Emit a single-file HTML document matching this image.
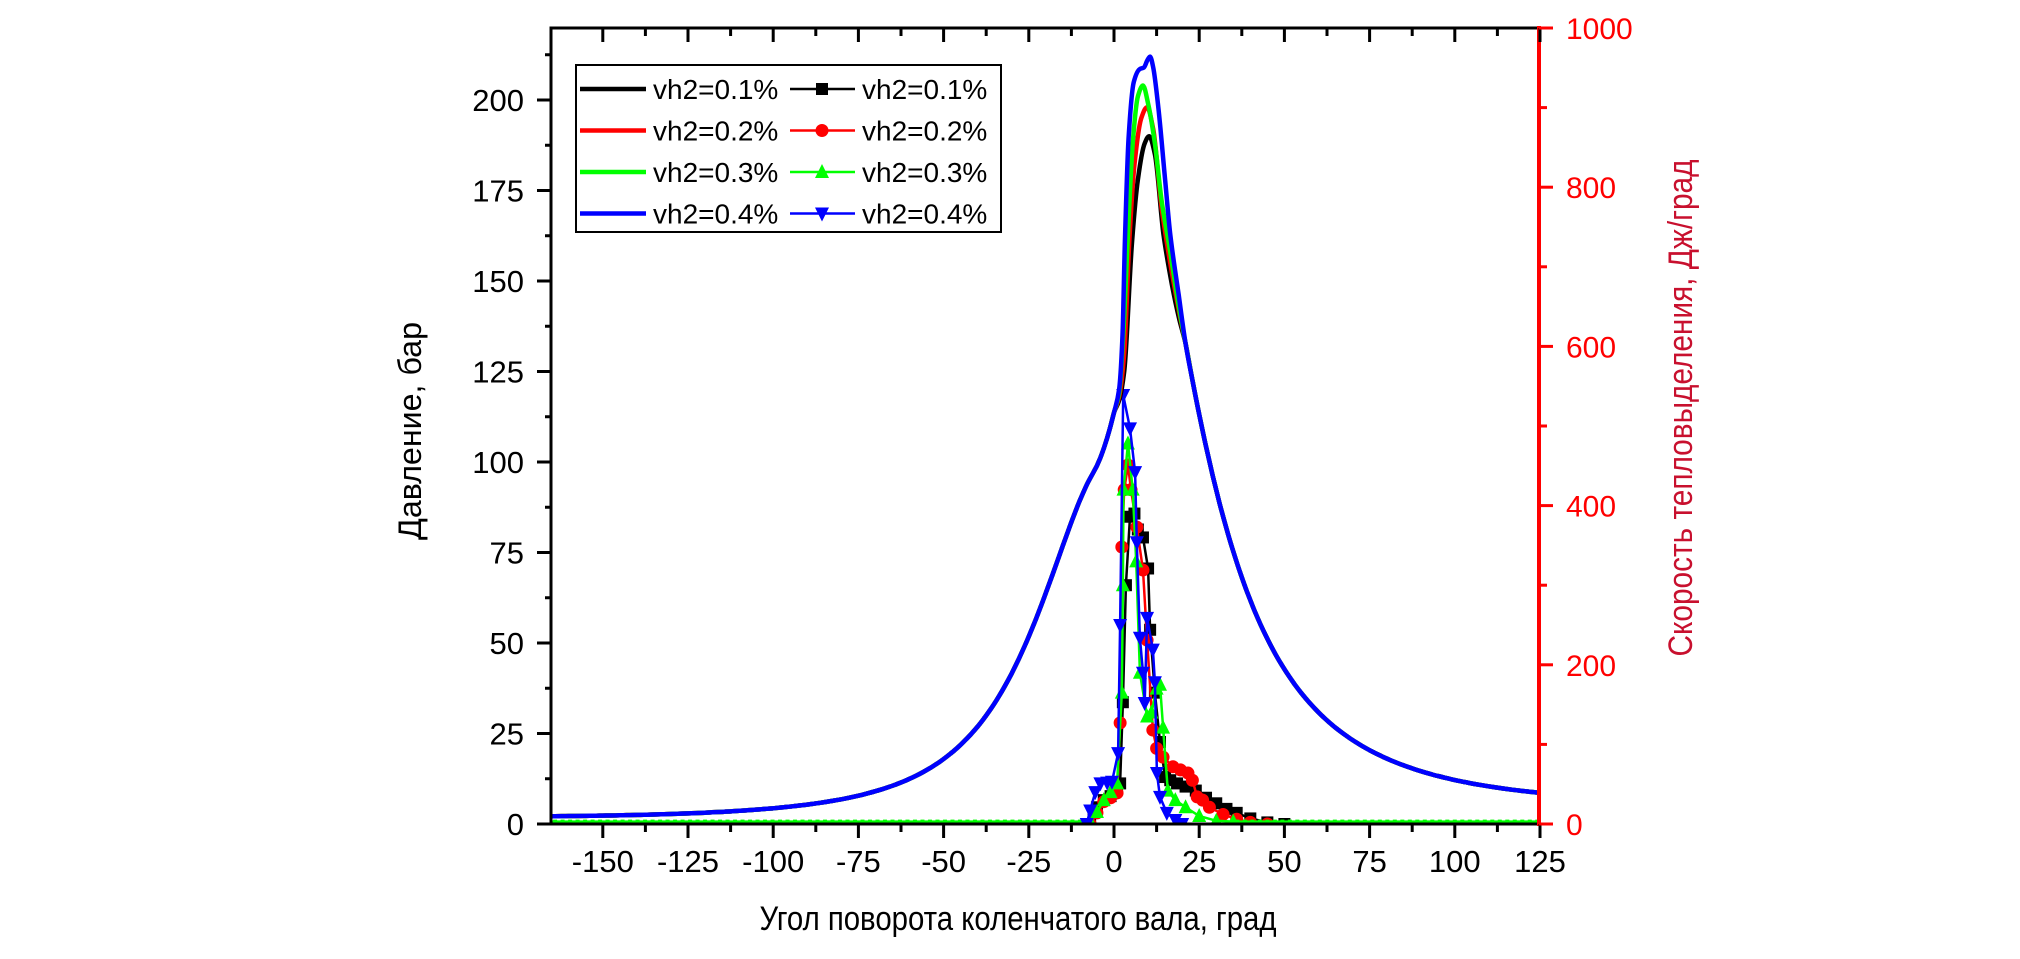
<!DOCTYPE html>
<html><head><meta charset="utf-8"><style>
html,body{margin:0;padding:0;background:#fff;}
svg{display:block;font-family:"Liberation Sans",Arial,sans-serif;}
</style></head><body>
<svg id="s" width="2020" height="959" viewBox="0 0 2020 959" xmlns="http://www.w3.org/2000/svg">
<rect width="2020" height="959" fill="#fff"/>
<defs><clipPath id="c"><rect x="551" y="28" width="988" height="797"/></clipPath></defs>
<g id="plot" clip-path="url(#c)"></g>
<g id="axes"></g>
<text x="1018" y="930" font-size="34" text-anchor="middle" textLength="517" lengthAdjust="spacingAndGlyphs">Угол поворота коленчатого вала, град</text>
<text transform="translate(421,431) rotate(-90)" font-size="32" text-anchor="middle" textLength="218" lengthAdjust="spacingAndGlyphs">Давление, бар</text>
<text transform="translate(1692,408) rotate(-90)" font-size="34" fill="#c8102e" text-anchor="middle" textLength="497" lengthAdjust="spacingAndGlyphs">Скорость тепловыделения, Дж/град</text>
<g id="leg"></g>
</svg>
<script>
var NS="http://www.w3.org/2000/svg";
function X(t){return 1114+t*3.408;}
function YL(p){return 824-p*3.62;}
function YR(q){return 824-q*0.796;}
function el(par,n,a,txt){var e=document.createElementNS(NS,n);for(var k in a)e.setAttribute(k,a[k]);if(txt!=null)e.textContent=txt;document.getElementById(par).appendChild(e);return e;}
function mono(pts){var n=pts.length,dx=[],m=[],t=[];
 for(var i=0;i<n-1;i++){dx[i]=pts[i+1][0]-pts[i][0];m[i]=(pts[i+1][1]-pts[i][1])/dx[i];}
 t[0]=m[0];t[n-1]=m[n-2];
 for(var i=1;i<n-1;i++){if(m[i-1]*m[i]<=0)t[i]=0;else{var w1=2*dx[i]+dx[i-1],w2=dx[i]+2*dx[i-1];t[i]=(w1+w2)/(w1/m[i-1]+w2/m[i]);}}
 var d="M"+pts[0][0].toFixed(1)+","+pts[0][1].toFixed(1);
 for(var i=0;i<n-1;i++){var h=dx[i]/3;d+="C"+(pts[i][0]+h).toFixed(1)+","+(pts[i][1]+t[i]*h).toFixed(1)+" "+(pts[i+1][0]-h).toFixed(1)+","+(pts[i+1][1]-t[i+1]*h).toFixed(1)+" "+pts[i+1][0].toFixed(1)+","+pts[i+1][1].toFixed(1);}
 return d;}
function V(t){return 1+7*(1-Math.cos(t*Math.PI/180));}
function pc(t){var p=0.9*113.5*Math.pow(1.15/(V(t)+0.15),1.505);if(t>-6)p+=11.5*Math.pow((t+6)/6,2);return p;}
function pe(t){return 218/Math.pow(V(t),1.3);}
var P={
"#000":[[1.5,117],[3,125],[5.3,161],[7,178],[9,188],[10.3,190],[12,185],[14.5,163],[17,149],[19,140]],
"#f00":[[1.5,118],[3,130],[4.5,161],[6,182],[8,195],[9.7,198],[11.5,192],[14,170],[16.5,155],[19,142]],
"#0f0":[[1.5,119],[2.7,135],[4,161],[5.5,188],[7,201],[8.5,204],[10,199],[12,188],[14,172],[16.5,158],[19,143]],
"#00f":[[1.5,120],[2.5,135],[3.2,161],[4.3,190],[5.8,205],[7.5,208.5],[8.8,209],[9.8,211],[10.6,212],[11.5,209],[13,198],[15,178],[16.5,163],[19,146]]};
var H={
"#000":[[-170,0],[-7,0],[-6,14],[-5,21],[-3,30],[-1,35],[0.9,45],[1.8,51],[2.6,153],[3.5,300],[4.7,386],[6,390],[7,370],[8.5,360],[10,321],[10.6,244],[12,165],[13.5,103],[15,59],[16.5,55],[18.5,51],[21,47],[24,42],[27,33],[30,26],[33,19],[36,14],[40,7],[45,2],[50,0],[130,0]],
"#f00":[[-170,0],[-7,0],[-5,14],[-3,28],[-1,33],[0.9,39],[1.8,127],[2.3,348],[3,420],[4.1,451],[5,420],[6.7,373],[8.5,319],[9.7,231],[11.4,118],[12.5,95],[14.4,84],[17.3,72],[19.5,68],[21.7,64],[23,55],[24.4,34],[26,30],[28,21],[32,12],[36,6],[40,2],[45,0],[130,0]],
"#0f0":[[-170,3],[-7,3],[-5,15],[-3,30],[-1,40],[0.9,51],[2.3,165],[2.6,300],[2.8,420],[4.1,478],[5.5,420],[6.5,330],[7.6,190],[9.7,135],[11,140],[12.5,170],[13.5,175],[14.4,121],[15.8,42],[18,30],[21,21],[25,10],[30,4],[35,3],[130,3]],
"#00f":[[-170,0],[-8,0],[-7,17],[-5.5,40],[-4,51],[-2,52],[-0.6,53],[1.2,89],[1.8,250],[2.7,539],[4.7,497],[6.2,442],[6.7,354],[7.6,234],[8.5,190],[9,152],[9.7,259],[11.4,219],[12,178],[12.6,64],[13.5,34],[15.5,14],[18,5],[20,0],[130,0]]};
var MK={"#000":"sq","#f00":"ci","#0f0":"tu","#00f":"td"};
function marker(g,type,x,y,c,s){s=s||6;
 if(type=="sq")el(g,"rect",{x:x-s,y:y-s,width:2*s,height:2*s,fill:c});
 else if(type=="ci")el(g,"circle",{cx:x,cy:y,r:s+0.5,fill:c});
 else if(type=="tu")el(g,"polygon",{points:(x-s-1)+","+(y+s)+" "+(x+s+1)+","+(y+s)+" "+x+","+(y-s-2),fill:c});
 else el(g,"polygon",{points:(x-s-1)+","+(y-s)+" "+(x+s+1)+","+(y-s)+" "+x+","+(y+s+2),fill:c});}
var order=["#000","#f00","#0f0","#00f"];
order.forEach(function(c){var d=H[c];var pts=d.map(function(p){return X(p[0]).toFixed(1)+","+YR(p[1]).toFixed(1);}).join(" ");
 el("plot","polyline",{points:pts,fill:"none",stroke:c,"stroke-width":2.5});
 d.forEach(function(p){if(p[0]>-9&&p[0]<60)marker("plot",MK[c],X(p[0]),YR(p[1]),c);});
 if(c=="#0f0"){for(var t=-164;t<125;t+=2.2){if(t<-8||t>35)el("plot","rect",{x:X(t)-2,y:YR(3)-2,width:4,height:4,fill:c});}}
});
order.forEach(function(c){var pts=[];
 for(var t=-170;t<=-8;t+=2)pts.push([t,pc(t)]);
 for(var t=-6;t<=0;t+=1)pts.push([t,pc(t)]);
 P[c].forEach(function(p){pts.push(p);});
 for(var t=21;t<=131;t+=2)pts.push([t,pe(t)]);
 var sp=pts.map(function(p){return[X(p[0]),YL(p[1])];});
 el("plot","path",{d:mono(sp),fill:"none",stroke:c,"stroke-width":4.5,"stroke-linejoin":"round"});});
el("axes","rect",{x:551,y:28,width:988,height:796,fill:"none",stroke:"#000","stroke-width":3});
el("axes","line",{x1:1539,y1:26,x2:1539,y2:826,stroke:"#f00","stroke-width":4});
for(var t=-150;t<=125;t+=12.5){var x=X(t),maj=(t%25==0);
 el("axes","line",{x1:x,y1:824,x2:x,y2:824+(maj?14:8),stroke:"#000","stroke-width":3});
 el("axes","line",{x1:x,y1:28,x2:x,y2:28+(maj?14:8),stroke:"#000","stroke-width":3});
 if(maj)el("axes","text",{x:x,y:872,"font-size":31,"text-anchor":"middle"},String(t));}
for(var p=0;p<=212.5;p+=12.5){var y=YL(p),maj=(p%25==0);
 el("axes","line",{x1:551,y1:y,x2:551-(maj?14:6),y2:y,stroke:"#000","stroke-width":3});
 if(maj)el("axes","text",{x:524,y:y+11,"font-size":31,"text-anchor":"end"},String(p));}
for(var q=0;q<=1000;q+=100){var y=YR(q),maj=(q%200==0);
 el("axes","line",{x1:1539,y1:y,x2:1539+(maj?14:8),y2:y,stroke:"#f00","stroke-width":3});
 if(maj)el("axes","text",{x:1566,y:y+11,"font-size":30,fill:"#f00"},String(q));}
el("leg","rect",{x:576,y:65,width:425,height:167,fill:"#fff",stroke:"#000","stroke-width":2});
var labs=["vh2=0.1%","vh2=0.2%","vh2=0.3%","vh2=0.4%"];
order.forEach(function(c,i){var y=89+i*41.5;
 el("leg","line",{x1:580,y1:y,x2:646,y2:y,stroke:c,"stroke-width":4.5});
 el("leg","text",{x:653,y:y+10,"font-size":28},labs[i]);
 el("leg","line",{x1:790,y1:y,x2:855,y2:y,stroke:c,"stroke-width":2.5});
 marker("leg",MK[c],822,y,c);
 el("leg","text",{x:862,y:y+10,"font-size":28},labs[i]);});
</script>
</body></html>
